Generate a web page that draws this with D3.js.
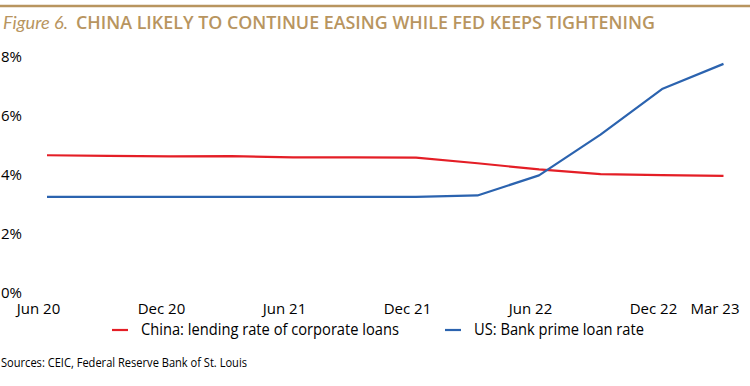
<!DOCTYPE html>
<html>
<head>
<meta charset="utf-8">
<script src="https://cdn.jsdelivr.net/npm/d3@7"></script>
<style>
  body { margin: 0; background: #fff; }
  svg { display: block; }
</style>
</head>
<body>
<svg class="chart"></svg>
<script>
// quarterly data, Jun 20 .. Mar 23
const quarters = ['Jun 20', 'Sep 20', 'Dec 20', 'Mar 21', 'Jun 21', 'Sep 21',
  'Dec 21', 'Mar 22', 'Jun 22', 'Sep 22', 'Dec 22', 'Mar 23'];
const chinaRate = [4.66, 4.64, 4.62, 4.63, 4.59, 4.59, 4.58, 4.39, 4.18, 4.02, 3.99, 3.96];
const usPrime = [3.25, 3.25, 3.25, 3.25, 3.25, 3.25, 3.25, 3.3, 3.98, 5.36, 6.9, 7.75];
const xTicks = ['Jun 20', 'Dec 20', 'Jun 21', 'Dec 21', 'Jun 22', 'Dec 22', 'Mar 23'];
const yTicks = [0, 2, 4, 6, 8];
const seriesNames = ['China: lending rate of corporate loans', 'US: Bank prime loan rate'];

const width = 750;
const height = 386;
const gold = '#B8955F';
const colors = ['#E41E26', '#2B63AF'];

const svg = d3.select('.chart')
  .attr('width', width)
  .attr('height', height);

// title block
svg.append('line')
  .attr('x1', 0).attr('x2', width)
  .attr('y1', 6).attr('y2', 6)
  .attr('stroke', gold)
  .attr('stroke-width', 2.5);

svg.append('text')
  .attr('x', 3).attr('y', 29)
  .attr('font-family', 'Lato, sans-serif')
  .attr('font-style', 'italic')
  .attr('font-size', 18)
  .attr('fill', gold)
  .attr('textLength', 65)
  .attr('lengthAdjust', 'spacingAndGlyphs')
  .text('Figure 6.');

svg.append('text')
  .attr('x', 76).attr('y', 29)
  .attr('font-family', '"Open Sans", sans-serif')
  .attr('font-weight', 600)
  .attr('font-size', 17.5)
  .attr('fill', gold)
  .attr('textLength', 579)
  .attr('lengthAdjust', 'spacingAndGlyphs')
  .text('CHINA LIKELY TO CONTINUE EASING WHILE FED KEEPS TIGHTENING');

// scales
const x = d3.scalePoint()
  .domain(quarters)
  .range([47, 723.5]);

const y = d3.scaleLinear()
  .domain([0, 8])
  .range([293, 56.5]);

// y axis, labels flush left
const yAxis = svg.append('g')
  .call(d3.axisLeft(y).tickValues(yTicks).tickSize(0).tickFormat(function(d) { return d + '%'; }));
yAxis.select('.domain').remove();
yAxis.selectAll('text')
  .attr('x', 1)
  .attr('dy', '0.3em')
  .attr('text-anchor', 'start')
  .attr('font-family', '"Open Sans", sans-serif')
  .attr('font-size', 15)
  .attr('fill', '#000');

// x axis
const xAxis = svg.append('g')
  .attr('transform', 'translate(0,300)')
  .call(d3.axisBottom(x).tickValues(xTicks).tickSize(0));
xAxis.select('.domain').remove();
xAxis.selectAll('text')
  .attr('x', -9)
  .attr('y', 0)
  .attr('dy', '0.95em')
  .attr('font-family', '"Open Sans", sans-serif')
  .attr('font-size', 15)
  .attr('fill', '#000');

// lines
const line = d3.line()
  .x(function(d, i) { return x(quarters[i]); })
  .y(function(d) { return y(d); });

[chinaRate, usPrime].forEach(function(values, i) {
  svg.append('path')
    .attr('d', line(values))
    .attr('fill', 'none')
    .attr('stroke', colors[i])
    .attr('stroke-width', 2.2)
    .attr('stroke-linejoin', 'round');
});

// legend
const legendX = [112, 445];
const legendW = [258, 170];
const legend = svg.selectAll('.legend')
  .data(seriesNames)
  .enter()
  .append('g')
  .attr('class', 'legend')
  .attr('transform', function(d, i) { return 'translate(' + legendX[i] + ',330)'; });

legend.append('line')
  .attr('x1', 0).attr('x2', 16)
  .attr('stroke', function(d, i) { return colors[i]; })
  .attr('stroke-width', 2.2);

legend.append('text')
  .attr('x', 29)
  .attr('dy', '0.35em')
  .attr('font-family', '"Open Sans", sans-serif')
  .attr('font-size', 15.5)
  .attr('fill', '#000')
  .attr('textLength', function(d, i) { return legendW[i]; })
  .attr('lengthAdjust', 'spacingAndGlyphs')
  .text(function(d) { return d; });

// source note
svg.append('text')
  .attr('x', 1).attr('y', 367)
  .attr('font-family', '"Open Sans", sans-serif')
  .attr('font-size', 12)
  .attr('fill', '#000')
  .attr('textLength', 246)
  .attr('lengthAdjust', 'spacingAndGlyphs')
  .text('Sources: CEIC, Federal Reserve Bank of St. Louis');
</script>
</body>
</html>
